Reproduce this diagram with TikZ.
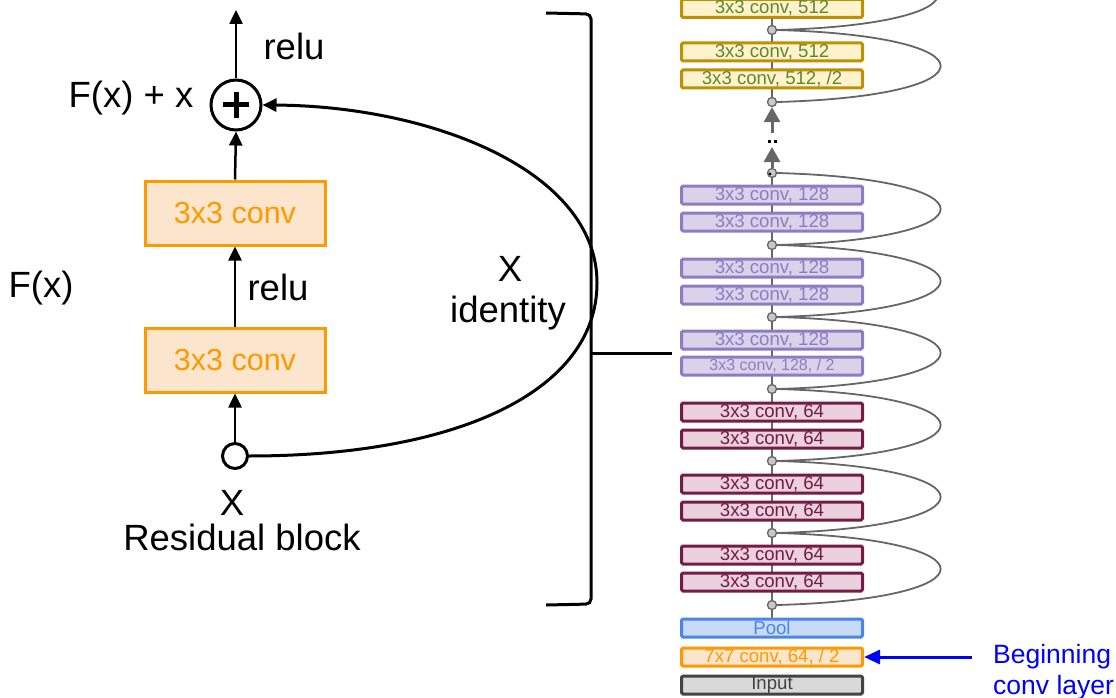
\documentclass[tikz,border=0pt]{standalone}
\usepackage{fontspec}
\setmainfont{Liberation Sans}
\usetikzlibrary{arrows.meta,backgrounds}
\definecolor{goldB}{HTML}{BF9000}
\definecolor{goldF}{HTML}{FFF2CC}
\definecolor{goldT}{HTML}{5A8A2A}
\definecolor{purB}{HTML}{8E7CC3}
\definecolor{purF}{HTML}{D9D2E9}
\definecolor{marB}{HTML}{741B47}
\definecolor{marF}{HTML}{EAD1DC}
\definecolor{poolB}{HTML}{4A86E8}
\definecolor{poolF}{HTML}{C9DAF8}
\definecolor{orB}{HTML}{FF9900}
\definecolor{orF}{HTML}{FCE5CD}
\definecolor{inB}{HTML}{434343}
\definecolor{inF}{HTML}{D9D9D9}
\definecolor{skipC}{HTML}{666666}
\definecolor{dotF}{HTML}{C8C8C8}
\tikzset{
  blk/.style={draw, line width=3pt, rounded corners=1.5pt, minimum width=181pt,
    minimum height=18pt, inner sep=0pt, font=\fontsize{18.6}{18}\selectfont},
  goldbox/.style={blk, draw=goldB, fill=goldF, text=goldT},
  purbox/.style={blk, draw=purB, fill=purF, text=purB},
  marbox/.style={blk, draw=marB, fill=marF, text=marB},
  poolbox/.style={blk, draw=poolB, fill=poolF, text=poolB},
  orbox/.style={blk, draw=orB, fill=orF, text=orB},
  inbox/.style={blk, draw=inB, fill=inF, text=inB},
  jdot/.style={circle, draw=skipC, fill=dotF, line width=1.3pt, minimum size=9pt, inner sep=0pt},
  skip/.style={draw=skipC, line width=1.8pt},
  garrow/.style={draw=skipC, line width=3pt, -{Triangle[width=16pt,length=15pt]}},
  bigbox/.style={draw=orB, fill=orF, text=orB, line width=3pt, minimum width=180pt,
    minimum height=64pt, inner sep=0pt, font=\fontsize{30.5}{30}\selectfont},
  barrow/.style={draw=black, line width=2.5pt, -{Triangle[width=13pt,length=14pt]}},
  lbl/.style={font=\fontsize{36.5}{36}\selectfont, anchor=base, inner sep=0pt},
}
\begin{document}
\begin{tikzpicture}[x=1pt,y=-1pt]
\useasboundingbox (0,0) rectangle (1116,698);
% ---------- right column ----------
\node[goldbox] (g1) at (772,8.5) {3x3 conv, 512};
\node[goldbox] (g2) at (772,52) {3x3 conv, 512};
\node[goldbox] (g3) at (772,79) {3x3 conv, 512, /2};
\node[purbox] (p1) at (772,195) {3x3 conv, 128};
\node[purbox] (p2) at (772,222) {3x3 conv, 128};
\node[purbox] (p3) at (772,268) {3x3 conv, 128};
\node[purbox] (p4) at (772,295) {3x3 conv, 128};
\node[purbox] (p5) at (772,340) {3x3 conv, 128};
\node[purbox, font=\fontsize{16}{16}\selectfont] (p6) at (772,366) {3x3 conv, 128, / 2};
\node[marbox] (m1) at (772,412) {3x3 conv, 64};
\node[marbox] (m2) at (772,439) {3x3 conv, 64};
\node[marbox] (m3) at (772,484) {3x3 conv, 64};
\node[marbox] (m4) at (772,511) {3x3 conv, 64};
\node[marbox] (m5) at (772,555) {3x3 conv, 64};
\node[marbox] (m6) at (772,582) {3x3 conv, 64};
\node[poolbox] (pool) at (772,628) {Pool};
\node[orbox] (c7x7) at (772,657) {7x7 conv, 64, / 2};
\node[inbox] (inp) at (772,685) {Input};
% junction dots
\node[jdot] (j8) at (772,30) {};
\node[jdot] (j7) at (772,102) {};
\node[jdot] (j6) at (772,173) {};
\node[jdot] (j5) at (772,245) {};
\node[jdot] (j4) at (772,317) {};
\node[jdot] (j3) at (772,389) {};
\node[jdot] (j2) at (772,461) {};
\node[jdot] (j1) at (772,533) {};
\node[jdot] (j0) at (772,605) {};
\fill (770,174) circle (1.6pt);
\coordinate (j9) at (772,-42);
\begin{pgfonlayer}{background}
\draw[skipC, line width=1.5pt] (pool.north) -- (j6.center);
\draw[skipC, line width=1.5pt] (j7.center) -- (j9);
\end{pgfonlayer}
% skip curves
\foreach \a/\b in {j0/j1,j1/j2,j2/j3,j3/j4,j4/j5,j5/j6,j7/j8,j8/j9}{
  \draw[skip] (\a.east) .. controls +(218,-6) and +(218,6) .. (\b.east);
}
% dots section arrows
\coordinate (ga) at (772,147);
\coordinate (gb) at (772,133);
\draw[garrow] (j6.north) -- (ga);
\draw[garrow] (gb) -- (j7.south);
\fill (767.5,140.5) rectangle (770.5,143.5);
\fill (773.5,140.5) rectangle (776.5,143.5);
% beginning arrow
\coordinate (bst) at (972,657);
\draw[blue, line width=3pt, -{Triangle[width=14pt,length=16pt]}] (bst) -- (c7x7.east);
\node[anchor=base west, inner sep=0pt, text=blue, font=\fontsize{26.5}{31}\selectfont, align=left] (beg) at (993,694) {Beginning\\conv layer};
% bracket
\draw[line width=3pt, rounded corners=5pt] (546,13) -- (591,14) -- (591,604) -- (546,605);
\coordinate (brk) at (591,353);
\coordinate (brkend) at (672,353);
\draw[line width=3pt] (brk) -- (brkend);
% ---------- residual block ----------
\node[circle, draw, fill=white, line width=3pt, minimum size=50pt, inner sep=0pt] (plus) at (236,105) {};
\draw[line width=5pt] ([xshift=-13pt]plus.center) -- ([xshift=13pt]plus.center);
\draw[line width=5pt] ([yshift=-13pt]plus.center) -- ([yshift=13pt]plus.center);
\node[bigbox] (b2) at (235,213) {3x3 conv};
\node[bigbox] (b1) at (235,360) {3x3 conv};
\node[circle, draw, fill=white, line width=3pt, minimum size=25pt, inner sep=0pt] (xin) at (235,456) {};
\coordinate (out) at (236,10);
\draw[barrow] (plus.north) -- (out);
\draw[barrow] (b2.north) -- (plus.south);
\draw[barrow] (b1.north) -- (b2.south);
\draw[barrow] (xin.north) -- (b1.south);
\draw[line width=3pt, -{Triangle[width=13pt,length=14pt]}] (xin.east) .. controls (460,456) and (597,390) .. (597,283) .. controls (597,170) and (430,106) .. (plus.east);
% labels
\node[lbl] (relu1) at (294,60) {relu};
\node[lbl] (fxx) at (131,108) {F(x) + x};
\node[lbl] (relu2) at (278,300) {relu};
\node[lbl] (fx) at (41,297) {F(x)};
\node[lbl] (xid) at (510,281) {X};
\node[lbl] (ident) at (508,322) {identity};
\node[lbl] (xl) at (232,515) {X};
\node[lbl] (rb) at (242,550) {Residual block};
\end{tikzpicture}
\end{document}
